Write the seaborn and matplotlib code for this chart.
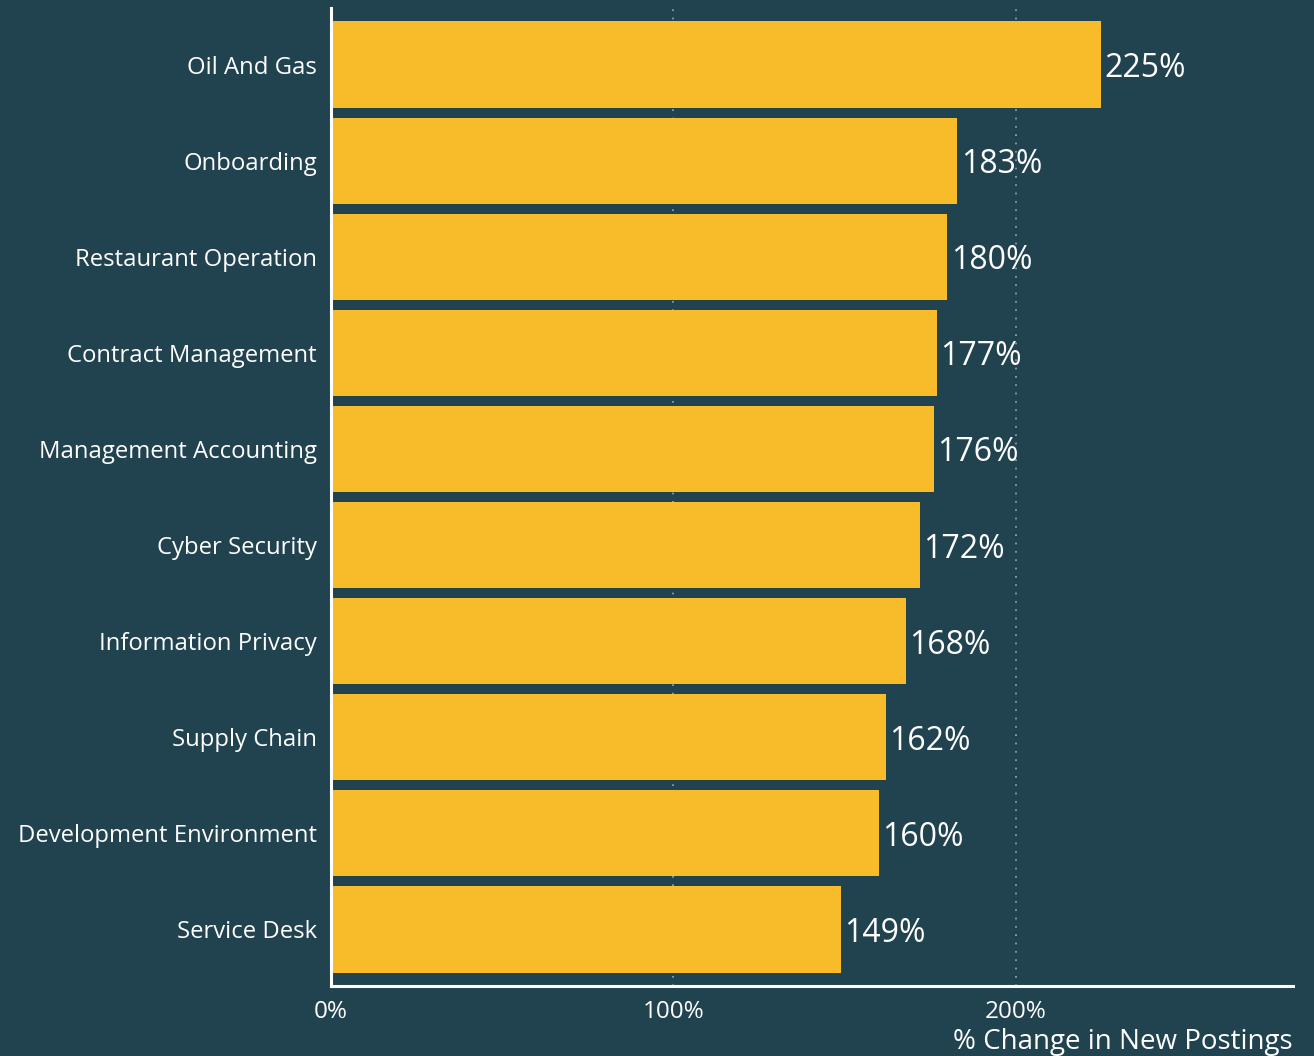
import matplotlib
matplotlib.use("Agg")
import matplotlib.pyplot as plt
import seaborn as sns
import pandas as pd

categories = ["Oil And Gas", "Onboarding", "Restaurant Operation", "Contract Management",
              "Management Accounting", "Cyber Security", "Information Privacy",
              "Supply Chain", "Development Environment", "Service Desk"]
values = [225, 183, 180, 177, 176, 172, 168, 162, 160, 149]
x_ticks = [0, 100, 200]
x_tick_labels = ["0%", "100%", "200%"]

BG = "#21424F"
BAR = "#F8BB29"

sns.set_theme(style="white")
plt.rcParams["font.family"] = ["Open Sans", "DejaVu Sans"]

df = pd.DataFrame({"category": categories, "value": values})

fig = plt.figure(figsize=(13.14, 10.56), dpi=100, facecolor=BG)
ax = fig.add_axes([331/1314, 70/1056, (1293-331)/1314, (986-8)/1056])
ax.set_facecolor(BG)

sns.barplot(data=df, x="value", y="category", color=BAR, saturation=1,
            width=0.9, linewidth=0, ax=ax, zorder=3)

ax.set_xlim(0, 281)
ax.set_ylim(len(categories) - 0.41, -0.59)
ax.set_xticks(x_ticks)
ax.set_xticklabels(x_tick_labels)
ax.grid(axis="x", color="#9aa9b0", linestyle=(0, (1, 4)), linewidth=1.2, zorder=0)
ax.grid(axis="y", visible=False)
ax.set_axisbelow(True)

for s in ["top", "right"]:
    ax.spines[s].set_visible(False)
for s in ["left", "bottom"]:
    ax.spines[s].set_color("white")
    ax.spines[s].set_linewidth(2.2)
    ax.spines[s].set_zorder(5)

ax.tick_params(axis="both", length=0, colors="white")
ax.tick_params(axis="y", labelsize=17.2, pad=10)
ax.tick_params(axis="x", labelsize=17.5, pad=10)
ax.set_ylabel("")
ax.set_xlabel("% Change in New Postings", color="white", fontsize=20, loc="right", labelpad=3)

for i, v in enumerate(values):
    ax.text(v + 1, i, f"{v}%", color="white", fontsize=23, va="center_baseline",
            ha="left", zorder=6)

fig.savefig("out.png", dpi=100, facecolor=BG)
